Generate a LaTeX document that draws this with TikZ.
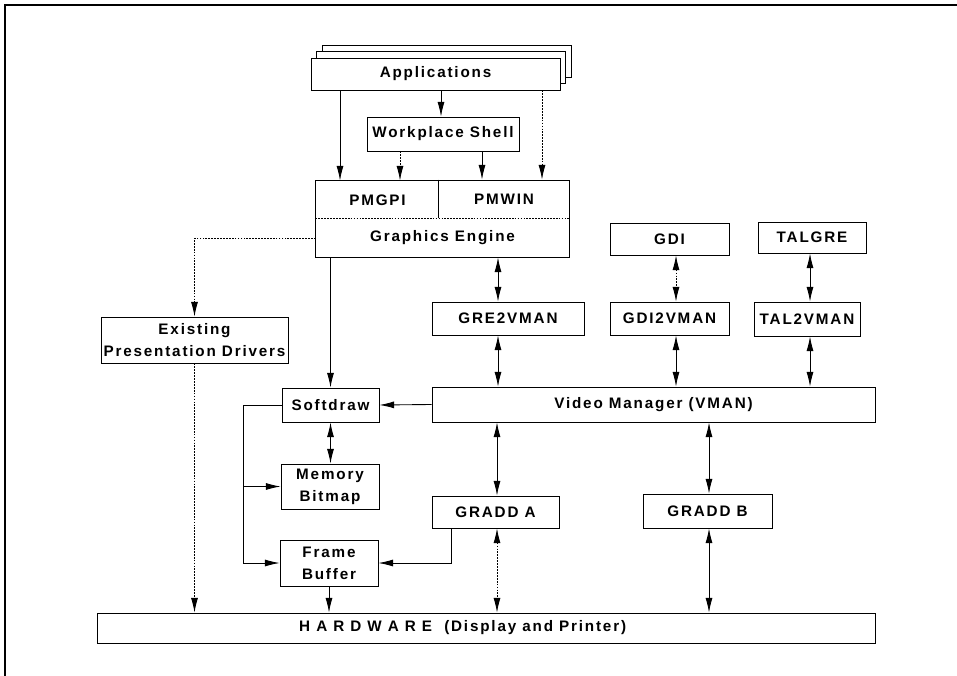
\documentclass[tikz,border=0pt]{standalone}
\usepackage{fontspec}
\newfontfamily\diafont{Liberation Sans}[LetterSpace=12]
\usetikzlibrary{calc, arrows.meta, shadows}

\begin{document}
\begin{tikzpicture}[
    x=0.03cm, y=-0.03cm,
    box/.style={rectangle, draw=black, line width=0.75pt, fill=white, inner sep=0pt, align=center, font=\diafont\bfseries\fontsize{13}{18.7}\selectfont},
    cell/.style={box, draw=none, fill=none},
    sz/.style 2 args={minimum width=#1*0.03cm, minimum height=#2*0.03cm},
    arrow/.style={line width=0.75pt, -{Latex[length=0.44cm,width=0.21cm]}},
    both/.style={line width=0.75pt, {Latex[length=0.44cm,width=0.21cm]}-{Latex[length=0.44cm,width=0.21cm]}},
    dsh/.style={dash pattern=on 1.5pt off 1pt}
]
\useasboundingbox (0,0) rectangle (957,676);

% Page frame
\draw[line width=1.6pt] (957,5) -- (5,5) -- (5,676);

% Upper layers
\node (app) [box, sz={249}{32}, double copy shadow={shadow xshift=0.165cm, shadow yshift=0.195cm, draw=black, line width=0.75pt, fill=white}] at (435.5,74) {Applications};
\node (shell) [box, sz={152}{34}] at (443,134) {Workplace Shell};

% PM and Graphics Engine
\node (pmgpi) [cell, sz={123}{38}] at (377.5,200) {PMGPI};
\node (pmwin) [cell, sz={130}{38}] at (504,199) {PMWIN};
\node (engine) [cell, sz={253}{38}] at (442.5,238) {Graphics Engine};
\draw[line width=0.75pt] (pmgpi.north west) rectangle (engine.south east);
\draw[line width=0.75pt, dsh] (engine.north west) -- (engine.north east);
\draw[line width=0.75pt] (pmwin.north west) -- (pmwin.south west);

% Other graphics subsystems
\node (gdi) [box, sz={119}{32}] at (669.5,239) {GDI};
\node (talgre) [box, sz={108}{31}] at (812,237.5) {TALGRE};
\node (gre2vman) [box, sz={152}{33}] at (508,318.5) {GRE2VMAN};
\node (gdi2vman) [box, sz={119}{33}] at (669.5,318.5) {GDI2VMAN};
\node (tal2vman) [box, sz={106}{34}] at (807,319) {TAL2VMAN};
\node (epd) [box, sz={187}{46}] at (194.5,340) {Existing\\Presentation Drivers};

% Video manager and drivers
\node (vman) [box, sz={443}{35}] at (653.5,404.5) {Video Manager (VMAN)};
\node (softdraw) [box, sz={97}{34}] at (330.5,405) {Softdraw};
\node (membmp) [box, sz={98}{45}] at (330,486.5) {Memory\\Bitmap};
\node (framebuf) [box, sz={98}{46}] at (329,563) {Frame\\Buffer};
\node (gradda) [box, sz={127}{32}] at (495.5,512) {GRADD A};
\node (graddb) [box, sz={129}{34}] at (707.5,511) {GRADD B};
\node (hw) [box, sz={778}{30}] at (486,628) {H A R D W A R E \ (Display and Printer)\hspace{1.4cm}};

\coordinate (bus) at (243,405);

% Top connections
\draw [arrow] (340,0 |- app.south) -- (340,0 |- pmgpi.north);
\draw [arrow] (441,0 |- app.south) -- (441,0 |- shell.north);
\draw [arrow, dsh] (542,0 |- app.south) -- (542,0 |- pmwin.north);
\draw [arrow, dsh] (400,0 |- shell.south) -- (400,0 |- pmgpi.north);
\draw [arrow] (482,0 |- shell.south) -- (482,0 |- pmwin.north);

% Engine outputs
\draw [arrow, dsh] (engine.west) -| (epd.north);
\draw [arrow] (softdraw.north |- engine.south) -- (softdraw.north);
\draw [both] (498,0 |- engine.south) -- (498,0 |- gre2vman.north);
\draw [both, dsh] (676,0 |- gdi.south) -- (676,0 |- gdi2vman.north);
\draw [both] (810,0 |- talgre.south) -- (810,0 |- tal2vman.north);

% Into the video manager
\draw [both] (498,0 |- gre2vman.south) -- (498,0 |- vman.north);
\draw [both] (676,0 |- gdi2vman.south) -- (676,0 |- vman.north);
\draw [both] (810,0 |- tal2vman.south) -- (810,0 |- vman.north);
\draw [arrow] (vman.west) -- (softdraw.east);

% Softdraw targets
\draw [both] (softdraw.south) -- (softdraw.south |- membmp.north);
\draw [arrow] (softdraw.west) -- (bus) |- (framebuf.west);
\draw [arrow] (bus |- membmp.west) -- (membmp.west);

% GRADDs
\draw [both] (497,0 |- vman.south) -- (497,0 |- gradda.north);
\draw [both] (709,0 |- vman.south) -- (709,0 |- graddb.north);
\draw [arrow] (451,0 |- gradda.south) |- (framebuf.east);

% Down to hardware
\draw [arrow, dsh] (epd.south) -- (epd.south |- hw.north);
\draw [arrow] (framebuf.south) -- (framebuf.south |- hw.north);
\draw [both, dsh] (497,0 |- gradda.south) -- (497,0 |- hw.north);
\draw [both] (709,0 |- graddb.south) -- (709,0 |- hw.north);

\end{tikzpicture}
\end{document}
